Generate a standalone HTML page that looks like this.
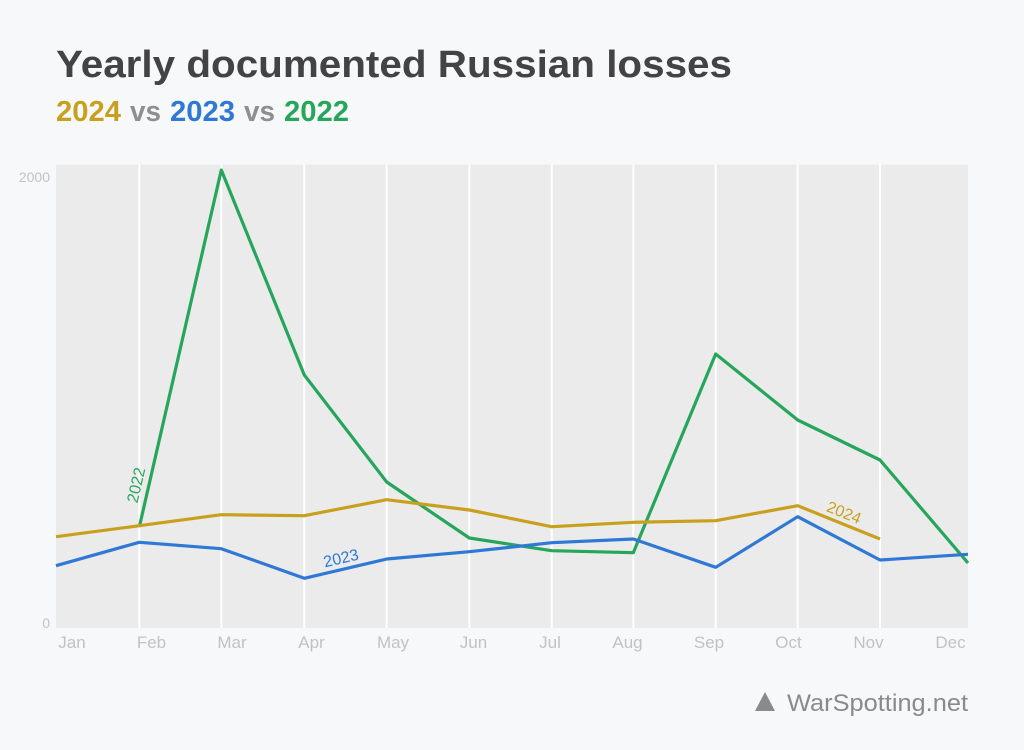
<!DOCTYPE html>
<html><head><meta charset="utf-8"><style>
html,body{margin:0;padding:0;background:#f7f8fa;}
svg{display:block;}
</style></head><body>
<svg width="1024" height="750" viewBox="0 0 1024 750" xmlns="http://www.w3.org/2000/svg" font-family="'Liberation Sans', Arial, sans-serif">
<rect x="0" y="0" width="1024" height="750" fill="#f7f8fa"/>
<text x="56" y="77" font-size="38" font-weight="bold" fill="#434345" textLength="676" lengthAdjust="spacingAndGlyphs">Yearly documented Russian losses</text>
<g font-size="29" font-weight="bold">
<text x="56" y="121" fill="#c9a01e" textLength="65" lengthAdjust="spacingAndGlyphs">2024</text>
<text x="130" y="121" fill="#8e8e93" textLength="31" lengthAdjust="spacingAndGlyphs">vs</text>
<text x="170" y="121" fill="#2f78d6" textLength="65" lengthAdjust="spacingAndGlyphs">2023</text>
<text x="244" y="121" fill="#8e8e93" textLength="31" lengthAdjust="spacingAndGlyphs">vs</text>
<text x="284" y="121" fill="#26a65b" textLength="65" lengthAdjust="spacingAndGlyphs">2022</text>
</g>
<rect x="56" y="164.5" width="912" height="463.5" fill="#ebebeb"/>
<g stroke="#ffffff" stroke-width="2">
<line x1="139.3" y1="164.5" x2="139.3" y2="628"/>
<line x1="221.3" y1="164.5" x2="221.3" y2="628"/>
<line x1="304.3" y1="164.5" x2="304.3" y2="628"/>
<line x1="386.7" y1="164.5" x2="386.7" y2="628"/>
<line x1="469.3" y1="164.5" x2="469.3" y2="628"/>
<line x1="551.7" y1="164.5" x2="551.7" y2="628"/>
<line x1="633.3" y1="164.5" x2="633.3" y2="628"/>
<line x1="715.7" y1="164.5" x2="715.7" y2="628"/>
<line x1="797.7" y1="164.5" x2="797.7" y2="628"/>
<line x1="880" y1="164.5" x2="880" y2="628"/>
</g>
<g font-size="14" fill="#c2c2c4" text-anchor="end">
<text x="50" y="182">2000</text>
<text x="50" y="628">0</text>
</g>
<g font-size="17" fill="#c2c2c4" text-anchor="middle">
<text x="72" y="648">Jan</text>
<text x="151.5" y="648">Feb</text>
<text x="232" y="648">Mar</text>
<text x="311.5" y="648">Apr</text>
<text x="393" y="648">May</text>
<text x="473.5" y="648">Jun</text>
<text x="550" y="648">Jul</text>
<text x="627.5" y="648">Aug</text>
<text x="709" y="648">Sep</text>
<text x="788.5" y="648">Oct</text>
<text x="868.5" y="648">Nov</text>
<text x="950.5" y="648">Dec</text>
</g>
<g fill="none" stroke-width="3.2" stroke-linejoin="round" stroke-linecap="butt">
<polyline stroke="#26a65b" points="139.3,527 221.3,170 304.3,375 386.7,482 469.3,538 551.7,550.7 633.3,552.7 715.7,354 797.7,420 880,460 968,563"/>
<polyline stroke="#2f78d6" points="56,565.7 139.3,542.3 221.3,548.7 304.3,578.3 386.7,559 469.3,551.7 551.7,542.7 633.3,539 715.7,567.3 797.7,516.7 880,560 968,554.3"/>
<polyline stroke="#c9a01e" points="56,536.7 139.3,525.7 221.3,514.7 304.3,515.7 386.7,499.7 469.3,510 551.7,526.7 633.3,522.3 715.7,520.7 797.7,505.7 880,539"/>
</g>
<g font-size="16" text-anchor="middle">
<text transform="translate(136,485) rotate(-77)" y="5.5" fill="#26a65b">2022</text>
<text transform="translate(341,558) rotate(-13)" y="5.5" fill="#2f78d6">2023</text>
<text transform="translate(844,512.5) rotate(22)" y="5.5" fill="#c9a01e">2024</text>
</g>
<polygon points="755,711 765,692 775,711" fill="#8a8a8c"/>
<text x="787" y="711" font-size="24" fill="#8a8a8c" textLength="181" lengthAdjust="spacingAndGlyphs">WarSpotting.net</text>
</svg>
</body></html>
